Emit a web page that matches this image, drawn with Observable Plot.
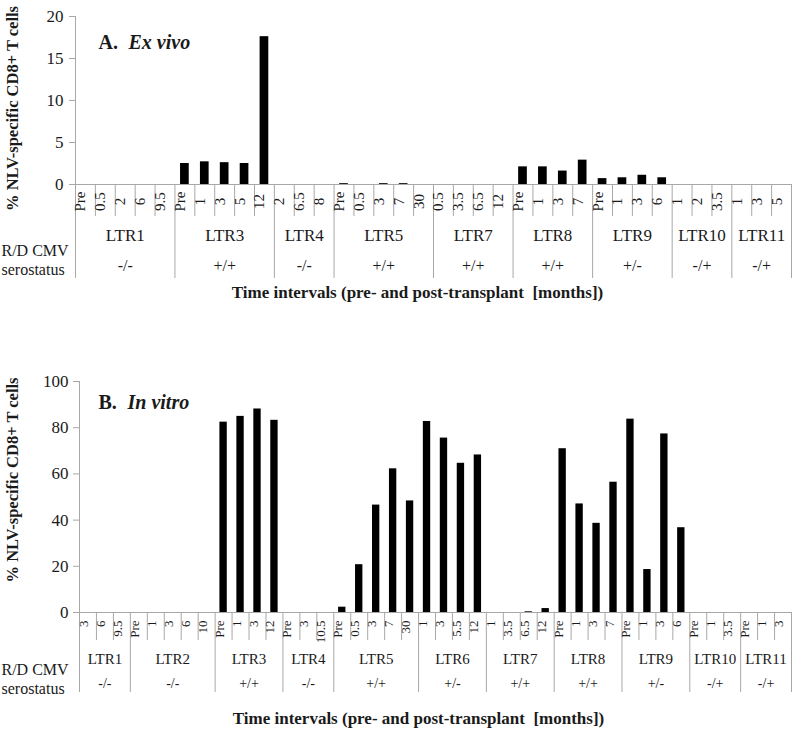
<!DOCTYPE html>
<html><head><meta charset="utf-8">
<script src="https://cdn.jsdelivr.net/npm/d3@7"></script>
<script src="https://cdn.jsdelivr.net/npm/@observablehq/plot@0.6"></script>
<style>
body{margin:0;background:#fff;}
#chart svg{display:block;overflow:visible;}
</style></head><body><div id="chart"></div>
<script>
// ---- Panel A: Ex vivo ----
const groupsA = ["LTR1","LTR3","LTR4","LTR5","LTR7","LTR8","LTR9","LTR10","LTR11"];
const statusA = ["-/-","+/+","-/-","+/+","+/+","+/+","+/-","-/+","-/+"];
const timesA = [
  ["Pre","0.5","2","6","9.5"],
  ["Pre","1","3","5","12"],
  ["2","6.5","8"],
  ["Pre","0.5","3","7","30"],
  ["0.5","3.5","6.5","12"],
  ["Pre","1","3","7"],
  ["Pre","1","3","6"],
  ["1","2","3.5"],
  ["1","3","5"]
];
const valuesA = [
  [0,0,0,0,0],
  [2.5,2.7,2.6,2.5,17.6],
  [0,0,0],
  [0.1,0,0.1,0.1,0],
  [0,0,0,0],
  [2.1,2.1,1.6,2.9],
  [0.7,0.8,1.1,0.8],
  [0,0,0],
  [0,0,0]
];
const yTicksA = [0,5,10,15,20];

// ---- Panel B: In vitro ----
const groupsB = ["LTR1","LTR2","LTR3","LTR4","LTR5","LTR6","LTR7","LTR8","LTR9","LTR10","LTR11"];
const statusB = ["-/-","-/-","+/+","-/-","+/+","+/-","+/+","+/+","+/-","-/+","-/+"];
const timesB = [
  ["3","6","9.5"],
  ["Pre","1","3","6","10"],
  ["Pre","1","3","12"],
  ["Pre","3","10.5"],
  ["Pre","0.5","3","7","30"],
  ["1","3","5.5","12"],
  ["1","3.5","6.5","12"],
  ["Pre","1","3","7"],
  ["Pre","1","3","6"],
  ["Pre","1","3.5"],
  ["Pre","1","3"]
];
const valuesB = [
  [0,0,0],
  [0,0,0,0,0],
  [82.4,84.9,88.1,83.2],
  [0,0,0],
  [2.3,20.7,46.5,62.2,48.3],
  [82.7,75.5,64.6,68.2],
  [0,0,0.3,1.7],
  [70.9,47.0,38.6,56.4],
  [83.7,18.6,77.3,36.7],
  [0,0,0],
  [0,0,0]
];
const yTicksB = [0,20,40,60,80,100];

const yTitle = "% NLV-specific CD8+ T cells";
const xTitle = "Time intervals (pre- and post-transplant\u00a0 [months])";
const rowLabel = "R/D CMV\nserostatus";

const GRAY = "#a8a8a8";
const INK = "#1a1a1a";
const FONT = "'Liberation Serif','Times New Roman',serif";

function panel(cfg) {
  const rows = [];
  const spans = [];
  let k = 0;
  cfg.groups.forEach((g, gi) => {
    const start = k;
    cfg.times[gi].forEach((t, ti) => {
      rows.push({i: k, t, v: cfg.values[gi][ti], first: ti === 0});
      k++;
    });
    spans.push({g, s: cfg.status[gi], start, end: k});
  });
  const n = k;
  const tickBounds = rows.filter(r => !r.first).map(r => r.i);
  const groupBounds = spans.map(s => s.start).concat([n]);
  const yMax = d3.max(cfg.yTicks);
  return Plot.plot({
    width: 799,
    height: cfg.height,
    marginLeft: cfg.marginLeft,
    marginRight: 8,
    marginTop: cfg.marginTop,
    marginBottom: cfg.marginBottom,
    x: {domain: [0, n], axis: null},
    y: {domain: [0, yMax], axis: null},
    style: {fontFamily: FONT, fontSize: "14px", color: INK, background: "white", overflow: "visible"},
    marks: [
      Plot.ruleY([0], {stroke: GRAY}),
      Plot.ruleX([0], {y1: 0, y2: yMax, stroke: GRAY}),
      Plot.axisY(cfg.yTicks, {tickSize: 6, tickPadding: cfg.tickPad, stroke: GRAY, fill: INK, fontSize: 17, fontFamily: FONT, label: null}),
      Plot.ruleX(tickBounds, {x: d => d, y1: 0, y2: 0, insetBottom: -cfg.tickSep, stroke: GRAY}),
      Plot.ruleX(groupBounds, {x: d => d, y1: 0, y2: 0, insetBottom: -cfg.groupSep, stroke: GRAY}),
      Plot.rectY(rows, {x1: "i", x2: d => d.i + 1, y1: 0, y2: "v", insetLeft: cfg.inset, insetRight: cfg.inset, fill: "black"}),
      Plot.text(rows, {x: d => d.i + 0.5, text: "t", frameAnchor: "bottom", rotate: -90, dy: cfg.tickDy, textAnchor: cfg.tickAnchor, fontSize: cfg.tickFont, fill: INK}),
      Plot.text(spans, {x: d => (d.start + d.end) / 2, text: "g", frameAnchor: "bottom", dy: cfg.groupDy, fontSize: cfg.groupFont, fill: INK}),
      Plot.text(spans, {x: d => (d.start + d.end) / 2, text: "s", frameAnchor: "bottom", dy: cfg.statusDy, fontSize: cfg.statusFont, fill: INK}),
      Plot.text([rowLabel], {text: d => d, frameAnchor: "bottom-left", textAnchor: "start", dx: 1 - cfg.marginLeft, dy: cfg.rowDy, lineHeight: 1.15, fontSize: 16, fontFamily: FONT, fill: INK}),
      Plot.text([xTitle], {text: d => d, frameAnchor: "bottom", textAnchor: "middle", dx: cfg.titleDx, dy: cfg.titleDy, fontWeight: "bold", fontSize: 17, fill: INK}),
      Plot.text([yTitle], {text: d => d, frameAnchor: "left", textAnchor: "middle", rotate: -90, dx: 12 - cfg.marginLeft, dy: cfg.yTitleDy, fontWeight: "bold", fontSize: 16.5, fill: INK}),
      Plot.text([cfg.letter], {text: d => d, frameAnchor: "top-left", textAnchor: "start", lineAnchor: "bottom", dx: cfg.letterDx, dy: cfg.letterDy, fontWeight: "bold", fontSize: 20, fill: INK}),
      Plot.text([cfg.name], {text: d => d, frameAnchor: "top-left", textAnchor: "start", lineAnchor: "bottom", dx: cfg.nameDx, dy: cfg.letterDy, fontWeight: "bold", fontStyle: "italic", fontSize: 20, fill: INK})
    ]
  });
}

const chart = document.getElementById("chart");
chart.append(panel({
  groups: groupsA, status: statusA, times: timesA, values: valuesA, yTicks: yTicksA,
  height: 310, marginLeft: 75, marginTop: 16, marginBottom: 126, tickPad: 6,
  inset: 5.6, tickSep: 32, groupSep: 94,
  tickDy: 17, tickAnchor: "middle", tickFont: 15,
  groupDy: 56, groupFont: 17, statusDy: 86, statusFont: 16,
  rowDy: 90, titleDx: -16, titleDy: 113, yTitleDy: 8,
  letter: "A.", name: "Ex vivo", letterDx: 23, nameDx: 53, letterDy: 32
}));
chart.append(panel({
  groups: groupsB, status: statusB, times: timesB, values: valuesB, yTicks: yTicksB,
  height: 419, marginLeft: 79, marginTop: 71, marginBottom: 117, tickPad: 5,
  inset: 4.8, tickSep: 28, groupSep: 80,
  tickDy: 8, tickAnchor: "end", tickFont: 13,
  groupDy: 51, groupFont: 15, statusDy: 75, statusFont: 14,
  rowDy: 81, titleDx: -17, titleDy: 111, yTitleDy: -17,
  letter: "B.", name: "In vitro", letterDx: 19, nameDx: 48, letterDy: 27
}));
</script>
</body></html>
